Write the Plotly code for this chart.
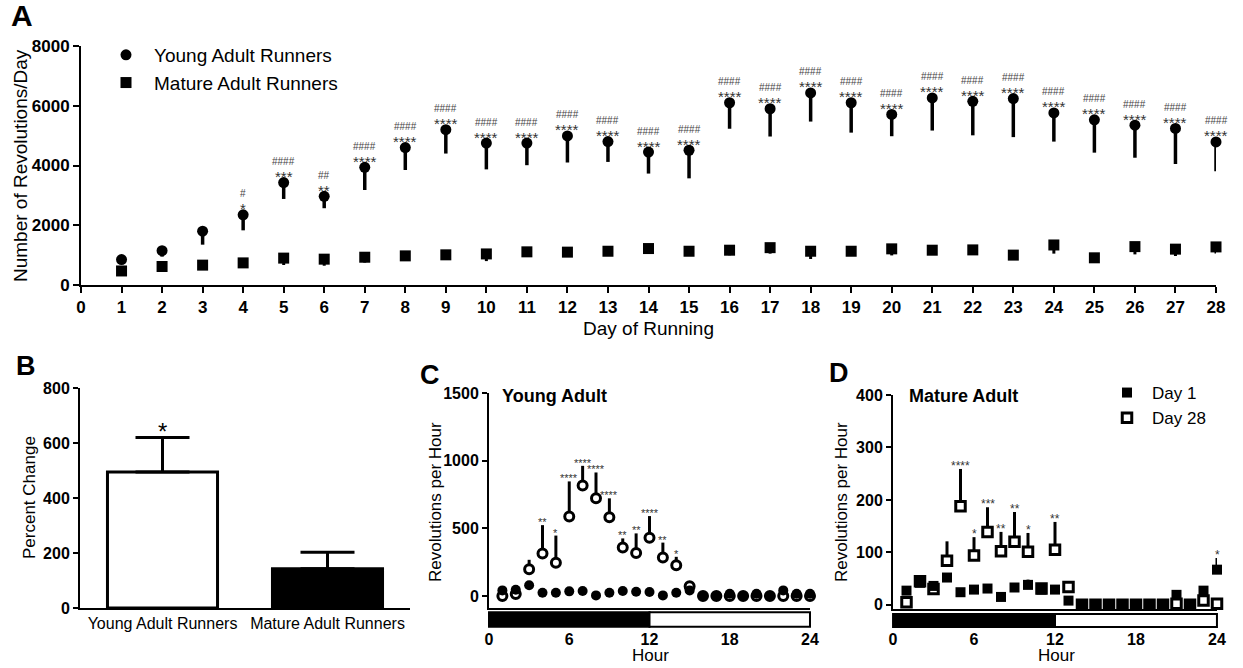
import plotly.graph_objects as go

# ---------------- DATA ----------------
# Panel A: daily wheel running
days = list(range(1, 29))
young_mean = [850, 1150, 1800, 2350, 3430, 2970, 3940, 4600, 5200, 4750, 4750, 4990, 4800, 4450,
              4510, 6100, 5900, 6430, 6100, 5710, 6260, 6150, 6240, 5760, 5530, 5350, 5240, 4790]
young_err = [0, 200, 450, 520, 550, 400, 760, 750, 800, 880, 740, 890, 680, 720,
             940, 870, 930, 960, 1000, 730, 1090, 1140, 1290, 960, 1100, 1090, 1190, 980]
mature_mean = [470, 620, 665, 740, 900, 865, 930, 975, 1010, 1040, 1110, 1100, 1130, 1220,
               1130, 1165, 1250, 1130, 1130, 1210, 1165, 1175, 1000, 1340, 910, 1285, 1200, 1275]
mature_err = [100, 120, 120, 120, 230, 220, 180, 160, 170, 240, 150, 150, 160, 170,
              150, 170, 200, 260, 150, 220, 160, 160, 140, 290, 120, 260, 230, 220]
a_stars = ["", "", "", "*", "***", "**"] + ["****"] * 22
a_hashes = ["", "", "", "#", "####", "##"] + ["####"] * 22

# Panel B: percent change
b_cats = ["Young Adult Runners", "Mature Adult Runners"]
b_vals = [495, 143]
b_err = [125, 60]
b_stars = ["*", ""]

# Panel C: young adult hourly
hours = list(range(1, 25))
c_day1 = [42, 47, 80, 25, 25, 35, 37, 5, 25, 37, 32, 30, 5, 25, 42, 0, 0, 17, 0, 17, 0, 42, 17, 17]
c_day28 = [0, 15, 198, 314, 247, 587, 817, 723, 582, 359, 319, 431, 285, 228, 72, 0, 0, 0, 0, 0, 0, 0, 0, 0]
c_day28_err = [0, 0, 70, 210, 200, 260, 145, 190, 140, 67, 144, 160, 110, 62, 0, 0, 0, 0, 0, 0, 0, 0, 0, 0]
c_stars = ["", "", "", "**", "*", "****", "****", "****", "****", "**", "**", "****", "**", "*",
           "", "", "", "", "", "", "", "", "", ""]

# Panel D: mature adult hourly
d_day1 = [27, 42, 36, 52, 24, 29, 31, 15, 33, 38, 29, 29, 8, 0, 0, 0, 0, 0, 0, 0, 19, 0, 27, 67]
d_day1_err = [0, 8, 5, 8, 0, 0, 0, 0, 8, 10, 0, 0, 0, 0, 0, 0, 0, 0, 0, 0, 0, 0, 8, 22]
d_day28 = [5, 45, 30, 84, 188, 94, 139, 102, 120, 101, 31, 105, 34, 0, 0, 0, 0, 0, 0, 0, 2, 0, 8, 2]
d_day28_err = [0, 8, 8, 37, 71, 35, 47, 37, 57, 36, 8, 53, 0, 0, 0, 0, 0, 0, 0, 0, 0, 0, 0, 0]
d_stars28 = ["", "", "", "", "****", "*", "***", "**", "**", "*", "", "**", "",
             "", "", "", "", "", "", "", "", "", "", ""]
d_stars1 = [""] * 23 + ["*"]

hour_ticks = [0, 6, 12, 18, 24]

# ---------------- LAYOUT HELPERS ----------------
W, H = 1243, 668
FONT = "Liberation Sans, Arial, sans-serif"


def fx(p):
    return p / W


def fy(p):
    return 1 - p / H


fig = go.Figure()

# ---- Panel A ----
fig.add_trace(go.Scatter(
    x=days, y=young_mean, mode="markers", name="Young Adult Runners",
    marker=dict(symbol="circle", size=11, color="black"),
    error_y=dict(type="data", symmetric=False, array=[0] * len(days), arrayminus=young_err,
                 width=0, thickness=3.5, color="black"),
    xaxis="x", yaxis="y", legend="legend", cliponaxis=False))
fig.add_trace(go.Scatter(
    x=days, y=mature_mean, mode="markers", name="Mature Adult Runners",
    marker=dict(symbol="square", size=11, color="black"),
    error_y=dict(type="data", symmetric=False, array=[0] * len(days), arrayminus=mature_err,
                 width=0, thickness=3, color="black"),
    xaxis="x", yaxis="y", legend="legend", cliponaxis=False))

# ---- Panel B ----
fig.add_trace(go.Bar(
    x=b_cats, y=b_vals, width=0.667, showlegend=False,
    marker=dict(color=["white", "black"], line=dict(color="black", width=3)),
    error_y=dict(type="data", symmetric=False, array=b_err, arrayminus=[0, 0],
                 width=27, thickness=3, color="black"),
    xaxis="x2", yaxis="y2"))

# ---- Panel C ----
fig.add_trace(go.Scatter(
    x=hours, y=c_day28, mode="markers", name="Day 28", showlegend=False,
    marker=dict(symbol="circle", size=9, color="white", line=dict(color="black", width=3)),
    error_y=dict(type="data", symmetric=False, array=c_day28_err, arrayminus=[0] * 24,
                 width=0, thickness=3, color="black"),
    xaxis="x3", yaxis="y3", cliponaxis=False))
fig.add_trace(go.Scatter(
    x=hours, y=c_day1, mode="markers", name="Day 1", showlegend=False,
    marker=dict(symbol="circle", size=10, color="black"),
    xaxis="x3", yaxis="y3", cliponaxis=False))

# ---- Panel D ----
fig.add_trace(go.Scatter(
    x=hours, y=d_day28, mode="markers", name="Day 28", legend="legend2", legendrank=2,
    marker=dict(symbol="square", size=9.5, color="white", line=dict(color="black", width=3)),
    error_y=dict(type="data", symmetric=False, array=d_day28_err, arrayminus=[0] * 24,
                 width=0, thickness=3, color="black"),
    xaxis="x5", yaxis="y5", cliponaxis=False))
fig.add_trace(go.Scatter(
    x=hours, y=d_day1, mode="markers", name="Day 1", legend="legend2", legendrank=1,
    marker=dict(symbol="square", size=10, color="black"),
    error_y=dict(type="data", symmetric=False, array=d_day1_err, arrayminus=[0] * 24,
                 width=0, thickness=3, color="black"),
    xaxis="x5", yaxis="y5", cliponaxis=False))

# ---------------- ANNOTATIONS ----------------
anns = []


def txt(text, px, py, size, bold=False, angle=0, xanchor="center", yanchor="middle", color="black"):
    anns.append(dict(text=text, x=fx(px), y=fy(py), xref="paper", yref="paper",
                     showarrow=False, textangle=angle, xanchor=xanchor, yanchor=yanchor,
                     font=dict(family=FONT, size=size, color=color,
                               weight="bold" if bold else "normal")))


# Panel letters
txt("A", 22, 16, 30, bold=True)
txt("B", 26, 366, 27, bold=True)
txt("C", 430, 375, 27, bold=True)
txt("D", 839, 373, 27, bold=True)
# Axis titles
txt("Number of Revolutions/Day", 20, 166, 19, angle=-90)
txt("Day of Running", 648, 328, 19)
txt("Percent Change", 29, 498, 17, angle=-90)
txt("Revolutions per Hour", 435, 502, 17, angle=-90)
txt("Revolutions per Hour", 841, 502, 17, angle=-90)
txt("Hour", 650, 655, 17)
txt("Hour", 1056, 655, 17)
# Sub titles
txt("Young Adult", 500, 396, 18, bold=True, xanchor="left")
txt("Mature Adult", 907, 396, 18, bold=True, xanchor="left")


def data_ann(text, x, y, xr, yr, size, yshift, color="#333"):
    anns.append(dict(text=text, x=x, y=y, xref=xr, yref=yr, showarrow=False,
                     xanchor="center", yanchor="middle", yshift=yshift,
                     font=dict(family=FONT, size=size, color=color)))


for d, m, s, hsh in zip(days, young_mean, a_stars, a_hashes):
    if s:
        data_ann(s, d, m, "x", "y", 15, 6)
    if hsh:
        data_ann(hsh, d, m, "x", "y", 10, 21, color="#444")

for c, v, e, s in zip(b_cats, b_vals, b_err, b_stars):
    if s:
        data_ann(s, c, v + e, "x2", "y2", 24, 6, color="black")

for h, v, e, s in zip(hours, c_day28, c_day28_err, c_stars):
    if s:
        data_ann(s, h, v + e, "x3", "y3", 11, 3)

for h, v, e, s in zip(hours, d_day28, d_day28_err, d_stars28):
    if s:
        data_ann(s, h, v + e, "x5", "y5", 12, 3)

for h, v, e, s in zip(hours, d_day1, d_day1_err, d_stars1):
    if s:
        data_ann(s, h, v + e, "x5", "y5", 12, 3)

# ---------------- SHAPES (light/dark bars) ----------------
shapes = []
for xr, yr in (("x4", "y4"), ("x6", "y6")):
    shapes.append(dict(type="rect", xref=xr, yref=yr, x0=0, x1=12, y0=0.07, y1=0.93,
                       fillcolor="black", line=dict(color="black", width=2)))
    shapes.append(dict(type="rect", xref=xr, yref=yr, x0=12, x1=24, y0=0.07, y1=0.93,
                       fillcolor="white", line=dict(color="black", width=2)))

# ---------------- AXES ----------------
tick_bold = lambda s: dict(family=FONT, size=s, color="black", weight="bold")
base_axis = dict(showline=True, linecolor="black", linewidth=2, showgrid=False,
                 zeroline=False, ticks="outside", ticklen=5, tickwidth=2, tickcolor="black")

layout_axes = dict(
    xaxis=dict(base_axis, domain=[fx(81), fx(1216)], range=[0, 28],
               tickvals=list(range(0, 29)), tickfont=tick_bold(17), ticklen=6,
               anchor="y"),
    yaxis=dict(base_axis, domain=[fy(285), fy(46)], range=[0, 8000],
               tickvals=[0, 2000, 4000, 6000, 8000], tickfont=tick_bold(17), ticklen=6,
               anchor="x"),
    xaxis2=dict(base_axis, domain=[fx(80), fx(410)], range=[-0.5, 1.5], type="category",
                ticks="", tickfont=dict(family=FONT, size=16, color="black"), anchor="y2"),
    yaxis2=dict(base_axis, domain=[fy(608), fy(388)], range=[0, 800],
                tickvals=[0, 200, 400, 600, 800], tickfont=tick_bold(16), anchor="x2"),
    xaxis3=dict(base_axis, domain=[fx(489), fx(810)], range=[0, 24], ticks="",
                showticklabels=False, anchor="y3"),
    yaxis3=dict(base_axis, domain=[fy(608), fy(393)], range=[-88, 1500],
                tickvals=[0, 500, 1000, 1500], tickfont=tick_bold(16), anchor="x3"),
    xaxis4=dict(domain=[fx(485), fx(814)], range=[-0.3, 24.3], showline=False,
                showgrid=False, zeroline=False, ticks="", tickvals=hour_ticks,
                tickfont=tick_bold(16), anchor="y4"),
    yaxis4=dict(domain=[fy(628), fy(611)], range=[0, 1], visible=False, anchor="x4"),
    xaxis5=dict(base_axis, domain=[fx(893), fx(1217)], range=[0, 24], ticks="",
                showticklabels=False, anchor="y5"),
    yaxis5=dict(base_axis, domain=[fy(609), fy(395)], range=[-8, 400],
                tickvals=[0, 100, 200, 300, 400], tickfont=tick_bold(16), anchor="x5"),
    xaxis6=dict(domain=[fx(889), fx(1221)], range=[-0.3, 24.3], showline=False,
                showgrid=False, zeroline=False, ticks="", tickvals=hour_ticks,
                tickfont=tick_bold(16), anchor="y6"),
    yaxis6=dict(domain=[fy(628), fy(613)], range=[0, 1], visible=False, anchor="x6"),
)

fig.update_layout(
    width=W, height=H, template="none",
    paper_bgcolor="white", plot_bgcolor="rgba(0,0,0,0)",
    margin=dict(l=0, r=0, t=0, b=0),
    font=dict(family=FONT, color="black"),
    annotations=anns, shapes=shapes,
    legend=dict(x=fx(98), y=fy(36), xanchor="left", yanchor="top", itemwidth=46,
                bgcolor="rgba(0,0,0,0)", font=dict(family=FONT, size=19, color="black")),
    legend2=dict(x=fx(1102), y=fy(375), xanchor="left", yanchor="top", itemwidth=40,
                 bgcolor="rgba(0,0,0,0)", font=dict(family=FONT, size=17, color="black")),
    **layout_axes,
)

fig.write_html("out.html", config={"displayModeBar": False},
               post_script="document.body.style.margin='0px';")
